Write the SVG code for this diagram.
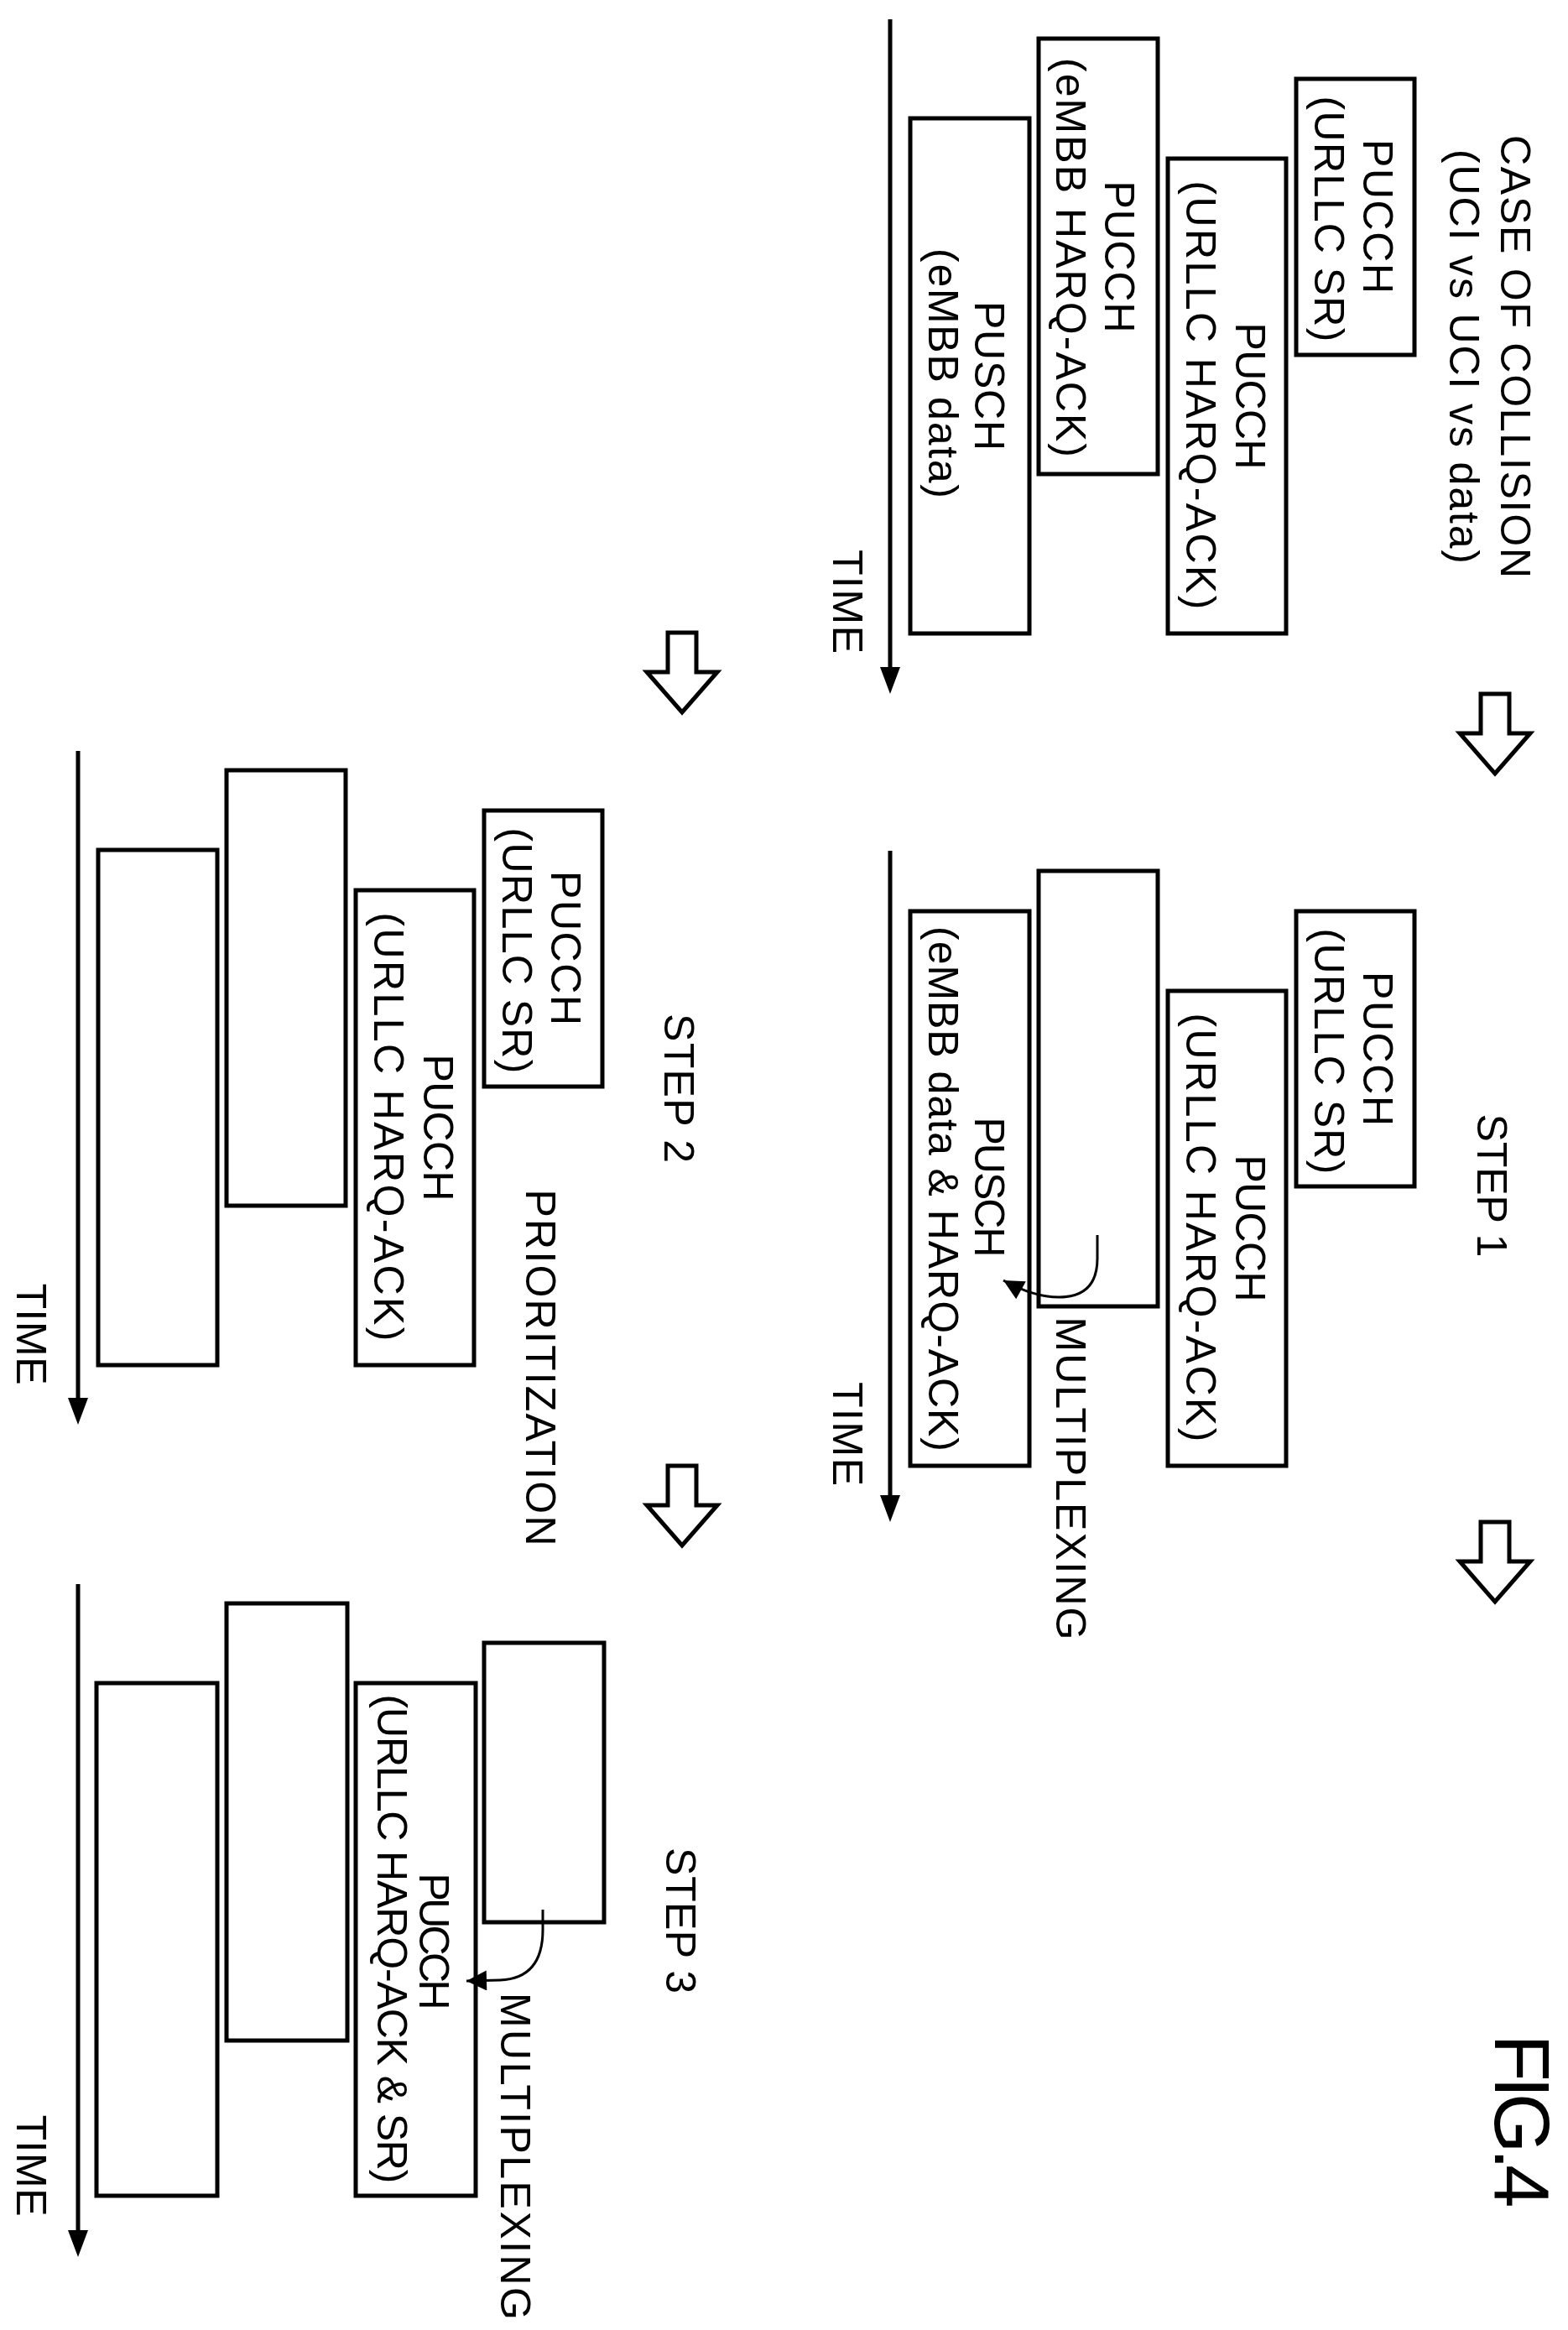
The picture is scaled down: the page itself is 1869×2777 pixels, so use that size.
<svg xmlns="http://www.w3.org/2000/svg" width="1869" height="2777" viewBox="0 0 1869 2777">
<defs>
<style>
rect.b{fill:none;stroke:#000;stroke-width:5}
.ax{stroke:#000;stroke-width:5;fill:none}
.cv{stroke:#000;stroke-width:3;fill:none}
.ho{fill:#fff;stroke:#000;stroke-width:5;stroke-linejoin:miter}
text{font-family:"Liberation Sans",Arial,sans-serif;font-size:50px;fill:#000;text-anchor:middle}
text.fig{font-size:92px}
</style>
<marker id="ah2" viewBox="0 0 10 10" refX="10" refY="5" markerWidth="30" markerHeight="24" orient="auto" markerUnits="userSpaceOnUse"><path d="M0,0 L10,5 L0,10 z" fill="#000"/></marker>
<path id="hollow" class="ho" d="M-17,0 L17,0 L17,47 L42,47 L0,95 L-42,47 L-17,47 Z"/>
</defs>
<rect width="1869" height="2777" fill="#fff"/>

<g id="connectors">
<line class="ax" x1="1061" y1="23" x2="1061" y2="800"/><path d="M1049,795 L1073,795 L1061,827 Z"/>
<line class="ax" x1="1061" y1="1014" x2="1061" y2="1787"/><path d="M1049,1782 L1073,1782 L1061,1814 Z"/>
<line class="ax" x1="93" y1="895" x2="93" y2="1671"/><path d="M81,1666 L105,1666 L93,1698 Z"/>
<line class="ax" x1="93" y1="1888" x2="93" y2="2663"/><path d="M81,2658 L105,2658 L93,2690 Z"/>
<path class="cv" d="M1308,1472 L1308,1500 Q1308,1546 1262,1546 Q1232,1546 1196,1526" marker-end="url(#ah2)"/>
<path class="cv" d="M647,2276 L647,2300 Q647,2358 596,2360 L556,2361" marker-end="url(#ah2)"/>
<use href="#hollow" x="1782" y="827"/>
<use href="#hollow" x="1782" y="1814"/>
<use href="#hollow" x="813" y="754"/>
<use href="#hollow" x="813" y="1747"/>
</g>

<g id="panel0">
<text transform="translate(1807,425) rotate(90)" y="18" textLength="528">CASE OF COLLISION</text>
<text transform="translate(1746,425) rotate(90)" y="18" textLength="494">(UCI vs UCI vs data)</text>
<text transform="translate(1011,717) rotate(90)" y="18" textLength="124">TIME</text>
</g>
<g id="p0-sr"><rect class="b" x="1545" y="94" width="141" height="329"/>
<text transform="translate(1643,258) rotate(90)" y="18" textLength="184">PUCCH</text>
<text transform="translate(1585,261) rotate(90)" y="18" textLength="293">(URLLC SR)</text></g>
<g id="p0-harq"><rect class="b" x="1392" y="189" width="141" height="566"/>
<text transform="translate(1491,472) rotate(90)" y="18" textLength="175">PUCCH</text>
<text transform="translate(1432,471) rotate(90)" y="18" textLength="511">(URLLC HARQ-ACK)</text></g>
<g id="p0-embb"><rect class="b" x="1238" y="46" width="142" height="519"/>
<text transform="translate(1335,306) rotate(90)" y="18" textLength="181">PUCCH</text>
<text transform="translate(1277,307) rotate(90)" y="18" textLength="476">(eMBB HARQ-ACK)</text></g>
<g id="p0-pusch"><rect class="b" x="1085" y="141" width="142" height="614"/>
<text transform="translate(1180,448) rotate(90)" y="18" textLength="178">PUSCH</text>
<text transform="translate(1125,445) rotate(90)" y="18" textLength="298">(eMBB data)</text></g>

<g id="step1">
<text transform="translate(1779,1413) rotate(90)" y="18" textLength="171">STEP 1</text>
<text transform="translate(1277,1762) rotate(90)" y="18" textLength="385">MULTIPLEXING</text>
<text transform="translate(1011,1709) rotate(90)" y="18" textLength="124">TIME</text>
</g>
<g id="p1-sr"><rect class="b" x="1545" y="1086" width="141" height="328"/>
<text transform="translate(1643,1250) rotate(90)" y="18" textLength="184">PUCCH</text>
<text transform="translate(1585,1253) rotate(90)" y="18" textLength="293">(URLLC SR)</text></g>
<g id="p1-harq"><rect class="b" x="1392" y="1181" width="141" height="566"/>
<text transform="translate(1491,1464) rotate(90)" y="18" textLength="175">PUCCH</text>
<text transform="translate(1432,1463) rotate(90)" y="18" textLength="511">(URLLC HARQ-ACK)</text></g>
<g id="p1-blank"><rect class="b" x="1238" y="1038" width="142" height="519"/></g>
<g id="p1-pusch"><rect class="b" x="1085" y="1086" width="142" height="661"/>
<text transform="translate(1180,1415) rotate(90)" y="18" textLength="167">PUSCH</text>
<text transform="translate(1125,1417) rotate(90)" y="18" textLength="626">(eMBB data &amp; HARQ-ACK)</text></g>

<g id="step2">
<text transform="translate(810,1297) rotate(90)" y="18" textLength="178">STEP 2</text>
<text transform="translate(645,1630) rotate(90)" y="18" textLength="425">PRIORITIZATION</text>
<text transform="translate(38,1590) rotate(90)" y="18" textLength="121">TIME</text>
</g>
<g id="p2-sr"><rect class="b" x="577" y="966" width="141" height="329"/>
<text transform="translate(675,1130) rotate(90)" y="18" textLength="184">PUCCH</text>
<text transform="translate(617,1133) rotate(90)" y="18" textLength="293">(URLLC SR)</text></g>
<g id="p2-harq"><rect class="b" x="424" y="1061" width="141" height="566"/>
<text transform="translate(523,1344) rotate(90)" y="18" textLength="175">PUCCH</text>
<text transform="translate(464,1343) rotate(90)" y="18" textLength="511">(URLLC HARQ-ACK)</text></g>
<g id="p2-blank1"><rect class="b" x="270" y="918" width="142" height="519"/></g>
<g id="p2-blank2"><rect class="b" x="117" y="1013" width="142" height="614"/></g>

<g id="step3">
<text transform="translate(812,2289) rotate(90)" y="18" textLength="174">STEP 3</text>
<text transform="translate(615,2570) rotate(90)" y="18" textLength="390">MULTIPLEXING</text>
<text transform="translate(38,2581) rotate(90)" y="18" textLength="121">TIME</text>
<text class="fig" transform="translate(1815,2528) rotate(90)" y="33" textLength="207">FIG.4</text>
</g>
<g id="p3-sr"><rect class="b" x="577" y="1958" width="143" height="333"/></g>
<g id="p3-harq"><rect class="b" x="424" y="2006" width="143" height="611"/>
<text transform="translate(518,2314) rotate(90)" y="18" textLength="163">PUCCH</text>
<text transform="translate(468,2311) rotate(90)" y="18" textLength="583">(URLLC HARQ-ACK &amp; SR)</text></g>
<g id="p3-blank1"><rect class="b" x="270" y="1911" width="144" height="521"/></g>
<g id="p3-blank2"><rect class="b" x="115" y="2006" width="144" height="611"/></g>
</svg>
